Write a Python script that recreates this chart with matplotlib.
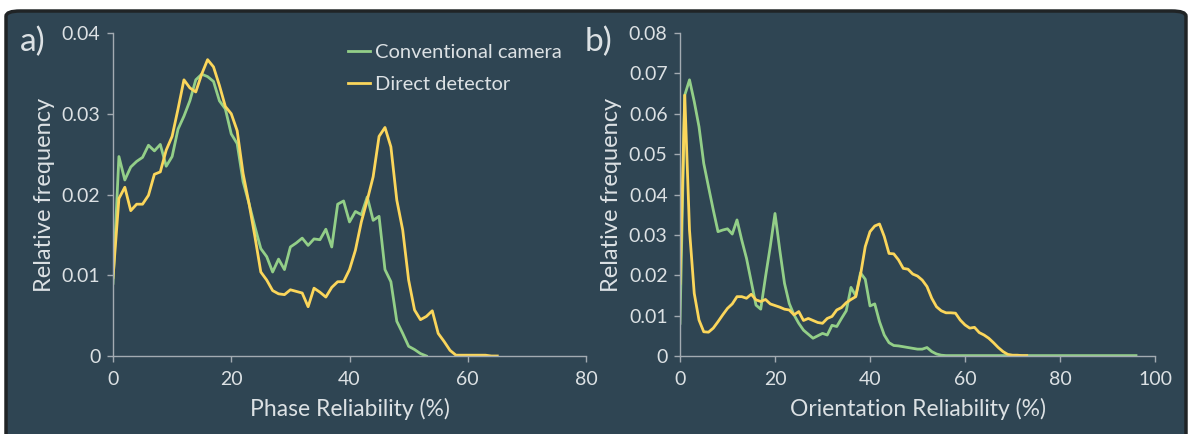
import matplotlib
matplotlib.use("Agg")
import matplotlib.pyplot as plt
from matplotlib.patches import FancyBboxPatch
import numpy as np

# ---------------- data ----------------
phase_conv = [0.0090, 0.0247, 0.0218, 0.0234, 0.0241, 0.0246, 0.0261, 0.0254, 0.0262, 0.0235,
              0.0247, 0.0281, 0.0297, 0.0316, 0.0342, 0.0349, 0.0346, 0.0340, 0.0316, 0.0306,
              0.0275, 0.0263, 0.0216, 0.0189, 0.0160, 0.0133, 0.0123, 0.0104, 0.0120, 0.0107,
              0.0135, 0.0140, 0.0146, 0.0137, 0.0145, 0.0144, 0.0157, 0.0135, 0.0188, 0.0192,
              0.0166, 0.0179, 0.0175, 0.0197, 0.0168, 0.0173, 0.0107, 0.0092, 0.0043, 0.0028,
              0.0012, 0.0008, 0.0003, 0.0000]
phase_direct = [0.0097, 0.0195, 0.0209, 0.0180, 0.0188, 0.0188, 0.0199, 0.0225, 0.0228, 0.0255,
                0.0272, 0.0306, 0.0342, 0.0332, 0.0327, 0.0349, 0.0367, 0.0358, 0.0335, 0.0309,
                0.0300, 0.0279, 0.0226, 0.0189, 0.0148, 0.0104, 0.0094, 0.0081, 0.0077, 0.0076,
                0.0082, 0.0080, 0.0078, 0.0061, 0.0084, 0.0079, 0.0073, 0.0085, 0.0092, 0.0092,
                0.0107, 0.0131, 0.0166, 0.0193, 0.0222, 0.0272, 0.0283, 0.0259, 0.0193, 0.0156,
                0.0094, 0.0057, 0.0045, 0.0049, 0.0056, 0.0028, 0.0018, 0.0007, 0.0001, 0.0001,
                0.0001, 0.0001, 0.0001, 0.0001, 0.0000, 0.0000]

orient_conv = [0.0081, 0.0646, 0.0684, 0.0630, 0.0568, 0.0477, 0.0419, 0.0362, 0.0308, 0.0312,
               0.0315, 0.0302, 0.0337, 0.0287, 0.0242, 0.0184, 0.0126, 0.0116, 0.0196, 0.0271,
               0.0353, 0.0263, 0.0180, 0.0130, 0.0102, 0.0081, 0.0064, 0.0054, 0.0044, 0.0050,
               0.0056, 0.0052, 0.0076, 0.0073, 0.0093, 0.0112, 0.0170, 0.0149, 0.0206, 0.0190,
               0.0124, 0.0129, 0.0085, 0.0052, 0.0033, 0.0026, 0.0025, 0.0023, 0.0021, 0.0019,
               0.0017, 0.0017, 0.0021, 0.0011, 0.0005, 0.0002] + [0.0001] * 41
orient_direct = [0.0180, 0.0646, 0.0312, 0.0155, 0.0089, 0.0060, 0.0059, 0.0069, 0.0085, 0.0102,
                 0.0118, 0.0129, 0.0147, 0.0147, 0.0143, 0.0153, 0.0139, 0.0135, 0.0140, 0.0129,
                 0.0125, 0.0121, 0.0116, 0.0114, 0.0102, 0.0110, 0.0088, 0.0093, 0.0088, 0.0083,
                 0.0081, 0.0093, 0.0098, 0.0114, 0.0120, 0.0132, 0.0140, 0.0147, 0.0201, 0.0271,
                 0.0308, 0.0322, 0.0327, 0.0296, 0.0254, 0.0253, 0.0238, 0.0217, 0.0215, 0.0203,
                 0.0198, 0.0188, 0.0172, 0.0143, 0.0122, 0.0112, 0.0107, 0.0107, 0.0106, 0.0089,
                 0.0077, 0.0069, 0.0071, 0.0058, 0.0052, 0.0044, 0.0033, 0.0021, 0.0011, 0.0004,
                 0.0002, 0.0002, 0.0001, 0.0001]

series_labels = ["Conventional camera", "Direct detector"]
phase_yticks = [0, 0.01, 0.02, 0.03, 0.04]
phase_yticklabels = ["0", "0.01", "0.02", "0.03", "0.04"]
orient_yticks = [0, 0.01, 0.02, 0.03, 0.04, 0.05, 0.06, 0.07, 0.08]
orient_yticklabels = ["0", "0.01", "0.02", "0.03", "0.04", "0.05", "0.06", "0.07", "0.08"]
phase_xticks = [0, 20, 40, 60, 80]
orient_xticks = [0, 20, 40, 60, 80, 100]

# ---------------- style ----------------
BG = "#2f4553"
GREEN = "#93cf88"
YELLOW = "#fbd65b"
SPINE = "#a3abb2"
TXT = "#dce1e4"
FONT = ["Lato", "DejaVu Sans"]
plt.rcParams["font.family"] = FONT

W, H = 1189, 434
fig = plt.figure(figsize=(W / 100, H / 100), dpi=100, facecolor="white")

panel = FancyBboxPatch((6 / W, -0.05), 1 - 9 / W, 1.05 - 11 / H,
                       boxstyle="round,pad=0,rounding_size=0.012",
                       transform=fig.transFigure, facecolor=BG,
                       edgecolor="#202426", linewidth=2.5, zorder=-10)
fig.patches.append(panel)


def style_axes(ax):
    ax.set_facecolor("none")
    ax.set_zorder(2)
    for s in ["top", "right"]:
        ax.spines[s].set_visible(False)
    for s in ["left", "bottom"]:
        ax.spines[s].set_color(SPINE)
        ax.spines[s].set_linewidth(1.0)
    ax.tick_params(axis="both", colors=SPINE, labelcolor=TXT, labelsize=14,
                   length=4, width=1.0, direction="out")
    ax.tick_params(axis="x", pad=7)
    ax.tick_params(axis="y", pad=5)


bottom = 1 - 356 / H
top = 1 - 33 / H
axA = fig.add_axes([113 / W, bottom, (586 - 113) / W, top - bottom])
axB = fig.add_axes([680 / W, bottom, (1155 - 680) / W, top - bottom])

LW = 2.0
# panel a
xa_c = np.arange(len(phase_conv))
xa_d = np.arange(len(phase_direct))
axA.plot(xa_c, phase_conv, color=GREEN, lw=LW, label=series_labels[0])
axA.plot(xa_d, phase_direct, color=YELLOW, lw=LW, label=series_labels[1])
axA.set_xlim(0, 80)
axA.set_ylim(0, 0.04)
axA.set_xticks(phase_xticks)
axA.set_yticks(phase_yticks)
axA.set_yticklabels(phase_yticklabels)
style_axes(axA)
axA.set_xlabel("Phase Reliability (%)", color=TXT, fontsize=16.5, labelpad=7)
axA.set_ylabel("Relative frequency", color=TXT, fontsize=17, labelpad=5)
leg = axA.legend(loc="upper left", bbox_to_anchor=(0.471, 1.005), frameon=False,
                 fontsize=14.5, handlelength=1.1, handletextpad=0.25,
                 labelspacing=0.75, labelcolor=TXT, borderaxespad=0.2)

# panel b
xb_c = np.arange(len(orient_conv))
xb_d = np.arange(len(orient_direct))
axB.plot(xb_c, orient_conv, color=GREEN, lw=LW)
axB.plot(xb_d, orient_direct, color=YELLOW, lw=LW)
axB.set_xlim(0, 100)
axB.set_ylim(0, 0.08)
axB.set_xticks(orient_xticks)
axB.set_yticks(orient_yticks)
axB.set_yticklabels(orient_yticklabels)
style_axes(axB)
axB.set_xlabel("Orientation Reliability (%)", color=TXT, fontsize=16.5, labelpad=7)
axB.set_ylabel("Relative frequency", color=TXT, fontsize=17, labelpad=5)

fig.text(20 / W, 1 - 42 / H, "a)", color=TXT, fontsize=24, va="center", ha="left")
fig.text(585 / W, 1 - 42 / H, "b)", color=TXT, fontsize=24, va="center", ha="left")

fig.savefig("out.png", dpi=100, facecolor="white")
